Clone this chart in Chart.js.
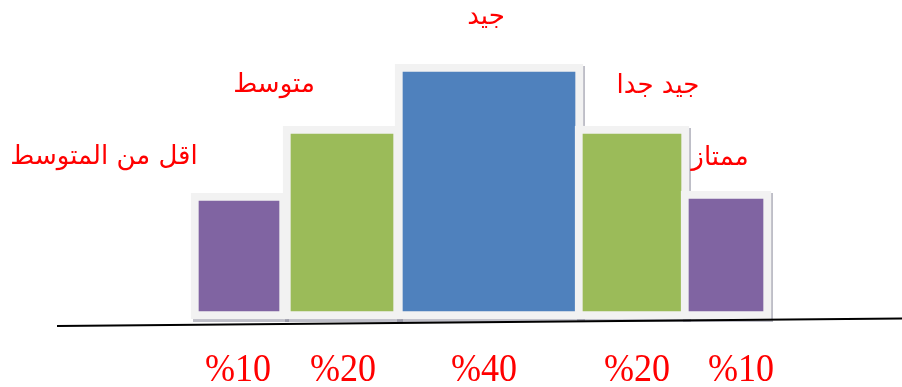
<!DOCTYPE html>
<html>
<head>
<meta charset="utf-8">
<script src="https://cdn.jsdelivr.net/npm/chart.js@4/dist/chart.umd.min.js"></script>
<style>
  html, body { margin: 0; padding: 0; background: #ffffff; }
  #wrap { width: 902px; height: 387px; position: relative; }
</style>
</head>
<body>
<div id="wrap"><canvas id="c"></canvas></div>
<script>
// ---- data ----
const categories = ["اقل من المتوسط", "متوسط", "جيد", "جيد جدا", "ممتاز"];
const percentLabels = ["%10", "%20", "%40", "%20", "%10"];
const barHeights = [126, 193, 255, 193, 128];   // heights

// ---- layout / style (not data) ----
const barCenters = [239, 342, 489, 632, 726];
const barWidths = [96, 118, 188, 114, 90];
const barColors = ["#8064A2", "#9BBB59", "#4F81BD", "#9BBB59", "#8064A2"];
const catOffsets = [[-135, -36], [-68, -41], [-3, -47], [26, -40], [-6, -33]];
const pctOffsets = [-1, 1, -5, 5, 15];

const datasets = categories.map((c, i) => ({
  label: c,
  data: [{ x: barCenters[i], y: barHeights[i] }],
  backgroundColor: barColors[i],
  borderColor: "#F2F2F2",
  borderWidth: 8,
  borderSkipped: false,
  barThickness: barWidths[i],
  grouped: false,
  order: categories.length - i
}));

const decor = {
  id: "decor",
  beforeDatasetsDraw(chart) {
    const ctx = chart.ctx;
    ctx.save();
    ctx.fillStyle = "rgba(110,110,130,0.45)";
    chart.data.datasets.forEach((d, i) => {
      const el = chart.getDatasetMeta(i).data[0];
      const w = el.width;
      ctx.fillRect(el.x - w / 2 + 2, el.y + 2, w, el.base - el.y + 1);
    });
    ctx.restore();
  },
  afterDatasetsDraw(chart) {
    const ctx = chart.ctx;
    const xs = chart.scales.x, ys = chart.scales.y;
    // baseline
    ctx.save();
    ctx.strokeStyle = "#000000";
    ctx.lineWidth = 2;
    ctx.beginPath();
    ctx.moveTo(xs.getPixelForValue(57), ys.getPixelForValue(-7));
    ctx.lineTo(xs.getPixelForValue(902), ys.getPixelForValue(0.5));
    ctx.stroke();
    ctx.restore();

    chart.data.datasets.forEach((d, i) => {
      const el = chart.getDatasetMeta(i).data[0];
      // category label
      ctx.save();
      ctx.fillStyle = "#FF0000";
      ctx.font = "26px 'DejaVu Sans', sans-serif";
      ctx.textAlign = "center";
      ctx.textBaseline = "middle";
      ctx.direction = "rtl";
      ctx.fillText(categories[i], el.x + catOffsets[i][0], el.y + catOffsets[i][1]);
      ctx.restore();
      // percent label
      ctx.save();
      ctx.fillStyle = "#FF0000";
      ctx.font = "41px 'Liberation Serif', serif";
      ctx.textAlign = "center";
      ctx.textBaseline = "alphabetic";
      const px = el.x + pctOffsets[i];
      const py = ys.getPixelForValue(-62);
      ctx.translate(px, py);
      ctx.scale(0.88, 1);
      ctx.fillText(percentLabels[i], 0, 0);
      ctx.restore();
    });
  }
};

new Chart(document.getElementById("c"), {
  type: "bar",
  data: { datasets },
  options: {
    responsive: true,
    maintainAspectRatio: false,
    animation: false,
    layout: { padding: 0 },
    plugins: { legend: { display: false }, tooltip: { enabled: false } },
    scales: {
      x: { type: "linear", min: 0, max: 902, offset: false, display: false },
      y: { type: "linear", min: -68, max: 319, display: false }
    }
  },
  plugins: [decor]
});
</script>
</body>
</html>
